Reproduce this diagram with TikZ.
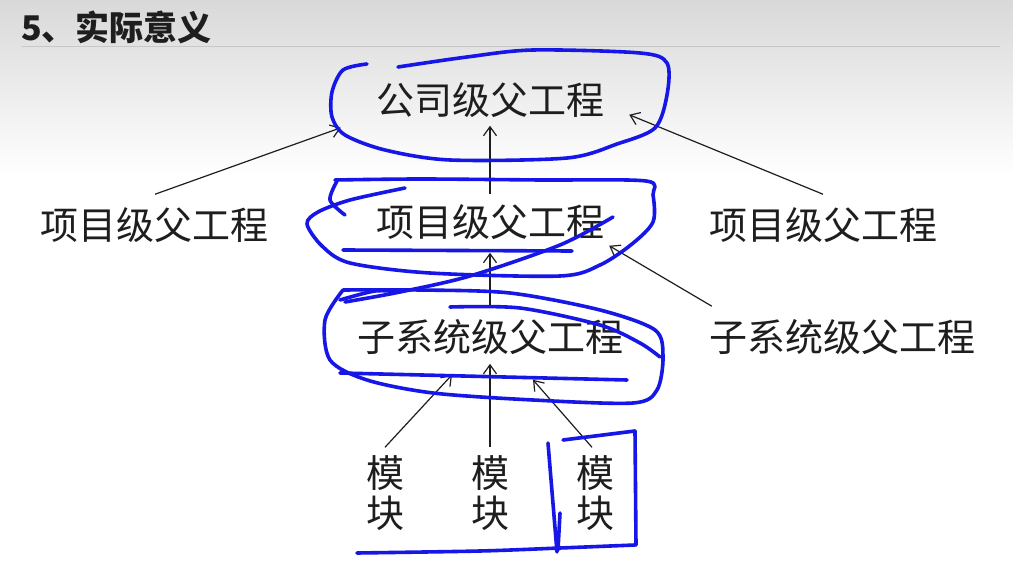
\documentclass[tikz,border=0pt]{standalone}
\usepackage{fontspec}
\newfontfamily\cjk{Noto Sans CJK SC}
\usetikzlibrary{arrows.meta}

\definecolor{penblue}{RGB}{22,22,230}
\definecolor{inkgray}{RGB}{30,30,30}

\tikzset{
  lvl/.style={font=\cjk\fontsize{38}{40}\selectfont, inner sep=0pt, text=inkgray},
  modbox/.style={lvl, align=center},
  link/.style={-{Straight Barb[length=9pt,width=13pt]}, line width=1.2pt, inkgray},
  pen/.style={line width=3.6pt, penblue, line cap=round, line join=round}
}

\begin{document}
\begin{tikzpicture}[x=1pt, y=-1pt]

\useasboundingbox (0,0) rectangle (1013,569);

% Slide background and title
\fill [white] (0,0) rectangle (1013,569);
\shade [top color=black!15, bottom color=white] (0,0) rectangle (1013,175);
\draw [black!22, line width=1pt] (22,47) -- (1000,47);
\node [font=\cjk\bfseries\fontsize{34}{36}\selectfont, text=inkgray, anchor=west, inner sep=0pt]
  (title) at (21,27) {5、实际意义};

% Levels of the hierarchy
\node [lvl] (co) at (490,100) {公司级父工程};
\node [lvl] (prjL) at (155,225) {项目级父工程};
\node [lvl] (prjC) at (490,222) {项目级父工程};
\node [lvl] (prjR) at (823,225) {项目级父工程};
\node [lvl] (subC) at (490,337) {子系统级父工程};
\node [lvl] (subR) at (842,337) {子系统级父工程};
\foreach \x/\nm in {385/modL, 490/modC, 595/modR} {
  \node [modbox] (\nm) at (\x,493) {模\\块};
}

% Arrows up the hierarchy
\draw [link] ([yshift=13pt]prjL.north) -- ([xshift=-35pt,yshift=-10pt]co.south west);
\draw [link] ([yshift=13pt]prjR.north) -- ([xshift=25pt,yshift=3pt]co.south east);
\draw [link] ([yshift=10pt]prjC.north) -- ([yshift=-8pt]co.south);
\draw [link] ([yshift=13pt]subC.north) -- ([yshift=-13pt]prjC.south);
\draw [link] ([xshift=3pt,yshift=13pt]subR.north west) -- ([xshift=5pt,yshift=-6pt]prjC.south east);
\draw [link] ([yshift=8pt]modL.north) -- ([xshift=-38pt,yshift=-20pt]subC.south);
\draw [link] ([yshift=8pt]modC.north) -- ([yshift=-9pt]subC.south);
\draw [link] ([xshift=-3pt,yshift=8pt]modR.north) -- ([xshift=43pt,yshift=-25pt]subC.south);

% Hand-drawn blue marks
\draw [pen] plot [smooth] coordinates {(367,64) (343,70) (332,92) (332,117) (345,135) (385,150)
  (450,160) (567,158) (617,144) (655,128) (667,95) (667,63) (640,53) (533,50) (467,57) (398,67)};

\draw [pen] plot [smooth] coordinates {(335,180) (420,179) (540,180) (646,181) (653,195) (653,222)
  (632,244) (600,265) (560,276) (430,273) (350,263) (322,246) (307,224) (318,212) (350,200) (405,188)};
\draw [pen] plot [smooth] coordinates {(613,217) (560,245) (470,276) (400,292) (345,302)};
\draw [pen] (343,250) -- (572,251);
\draw [pen] plot [smooth] coordinates {(337,181) (330,200) (345,215)};

\draw [pen] plot [smooth] coordinates {(343,290) (420,290) (510,293) (600,310) (655,330) (663,357)
  (657,390) (633,403) (533,400) (433,393) (367,380) (330,360) (325,320) (343,290)};
\draw [pen] plot [smooth] coordinates {(450,307) (520,308) (600,325) (640,343) (660,357)};
\draw [pen] (340,373) -- (627,380);
\draw [pen] plot [smooth] coordinates {(340,300) (375,291) (400,292)};

\draw [pen] plot [smooth] coordinates {(357,553) (480,551) (560,548) (635,545)};
\draw [pen] (548,443) -- (557,552);
\draw [pen] (563,440) -- (635,431) -- (636,545);
\draw [pen] (560,513) -- (558,550);

\end{tikzpicture}
\end{document}
